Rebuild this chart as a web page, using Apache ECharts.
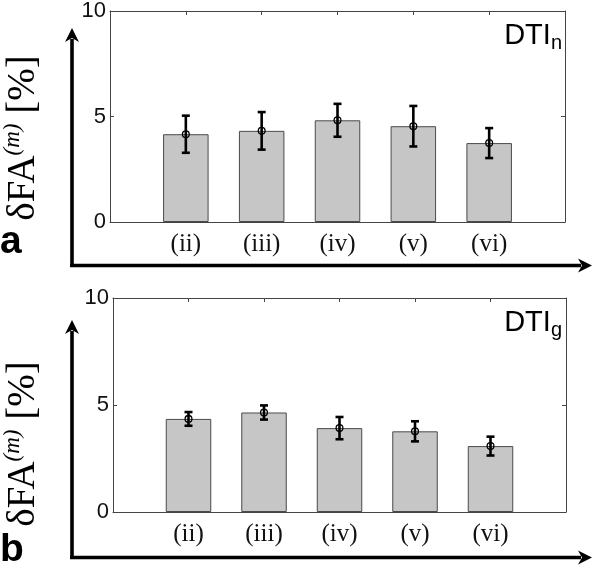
<!DOCTYPE html>
<html>
<head>
<meta charset="utf-8">
<script src="https://cdn.jsdelivr.net/npm/echarts@6/dist/echarts.min.js"></script>
<style>html,body{margin:0;padding:0;background:#fff;}#c{width:595px;height:568px;}</style>
</head>
<body>
<div id="c"></div>
<script>
const categories = ['(ii)', '(iii)', '(iv)', '(v)', '(vi)'];
const meanA = [4.16, 4.32, 4.82, 4.54, 3.74];
const errA  = [0.88, 0.89, 0.78, 0.96, 0.71];
const meanB = [4.35, 4.65, 3.92, 3.77, 3.08];
const errB  = [0.32, 0.33, 0.52, 0.47, 0.44];
const yTicks = [0, 5, 10];

const chart = echarts.init(document.getElementById('c'), null, {renderer: 'canvas'});
const axisCol = '#444';
const sansFont = '"Liberation Sans", Arial, sans-serif';
const serifFont = '"Liberation Serif", "Times New Roman", serif';

function xAxes(gi) {
  return [
    {gridIndex: gi, type: 'value', min: 0, max: categories.length + 1, interval: 1, position: 'bottom',
      axisLine: {show: true, onZero: false, lineStyle: {color: axisCol, width: 1}},
      axisTick: {show: true, inside: true, length: 4, lineStyle: {color: axisCol}},
      splitLine: {show: false},
      axisLabel: {margin: 10, color: '#111', fontFamily: serifFont, fontSize: 25,
        formatter: v => categories[v - 1] || ''}},
    {gridIndex: gi, type: 'value', min: 0, max: categories.length + 1, interval: 1, position: 'top',
      axisLine: {show: true, onZero: false, lineStyle: {color: axisCol, width: 1}},
      axisTick: {show: true, inside: true, length: 4, lineStyle: {color: axisCol}},
      splitLine: {show: false}, axisLabel: {show: false}}
  ];
}
function yAxes(gi) {
  return [
    {gridIndex: gi, type: 'value', min: yTicks[0], max: yTicks[yTicks.length - 1], interval: yTicks[1] - yTicks[0], position: 'left',
      axisLine: {show: true, onZero: false, lineStyle: {color: axisCol, width: 1}},
      axisTick: {show: true, inside: true, length: 4, lineStyle: {color: axisCol}},
      splitLine: {show: false},
      axisLabel: {margin: 4, color: '#111', fontFamily: sansFont, fontSize: 22}},
    {gridIndex: gi, type: 'value', min: yTicks[0], max: yTicks[yTicks.length - 1], interval: yTicks[1] - yTicks[0], position: 'right',
      axisLine: {show: true, onZero: false, lineStyle: {color: axisCol, width: 1}},
      axisTick: {show: true, inside: true, length: 4, lineStyle: {color: axisCol}},
      splitLine: {show: false}, axisLabel: {show: false}}
  ];
}

function errRender(params, api) {
  const x = api.value(0), m = api.value(1), e = api.value(2);
  const top = api.coord([x, m + e]);
  const bot = api.coord([x, m - e]);
  const c = api.coord([x, m]);
  const cap = 4;
  const ls = {stroke: '#000', lineWidth: 2.6};
  return {type: 'group', children: [
    {type: 'line', shape: {x1: top[0], y1: top[1], x2: bot[0], y2: bot[1]}, style: ls},
    {type: 'line', shape: {x1: top[0] - cap, y1: top[1], x2: top[0] + cap, y2: top[1]}, style: ls},
    {type: 'line', shape: {x1: bot[0] - cap, y1: bot[1], x2: bot[0] + cap, y2: bot[1]}, style: ls},
    {type: 'circle', shape: {cx: c[0], cy: c[1], r: 3.4}, style: {stroke: '#000', lineWidth: 1.3, fill: 'none'}}
  ]};
}

function barSeries(xi, yi, means) {
  return {type: 'bar', xAxisIndex: xi, yAxisIndex: yi, barWidth: 45.5,
    itemStyle: {color: '#c6c6c6', borderColor: '#4a4a4a', borderWidth: 1},
    data: means.map((v, i) => [i + 1, v]), z: 2};
}
function errSeries(xi, yi, means, errs) {
  return {type: 'custom', xAxisIndex: xi, yAxisIndex: yi, renderItem: errRender,
    data: means.map((v, i) => [i + 1, v, errs[i]]), z: 5};
}

function arrow(x1, y1, x2, y2) {
  const ang = Math.atan2(y2 - y1, x2 - x1);
  const L = 14, W = 7;
  const bx = x2 - L * Math.cos(ang), by = y2 - L * Math.sin(ang);
  const px = -Math.sin(ang) * W, py = Math.cos(ang) * W;
  return [
    {type: 'line', shape: {x1: x1, y1: y1, x2: bx + 3 * Math.cos(ang), y2: by + 3 * Math.sin(ang)}, style: {stroke: '#000', lineWidth: 3.6}},
    {type: 'polygon', shape: {points: [[x2, y2], [bx + px, by + py], [bx + 4 * Math.cos(ang), by + 4 * Math.sin(ang)], [bx - px, by - py]]}, style: {fill: '#000'}}
  ];
}

const yLabelRich = {
  a: {fontFamily: serifFont, fontSize: 39, color: '#111'},
  s: {fontFamily: serifFont, fontSize: 23, color: '#111', fontStyle: 'italic', padding: [0, 0, 22, 0]}
};
function yLabel(x, y) {
  return {type: 'text', x: x, y: y, rotation: Math.PI / 2,
    style: {text: '{a|δFA}{s|(m)}{a| [%]}', rich: yLabelRich, align: 'center', verticalAlign: 'middle'}};
}
function dtiLabel(x, y, sub) {
  return {type: 'text', x: x, y: y,
    style: {text: '{a|DTI}{b|' + sub + '}', align: 'right', verticalAlign: 'top',
      rich: {a: {fontFamily: sansFont, fontSize: 29, color: '#111'},
             b: {fontFamily: sansFont, fontSize: 20, color: '#111', padding: [14, 0, 0, 0]}}}};
}

const graphics = [].concat(
  arrow(72, 267, 72, 28),
  arrow(70, 265.5, 592, 265.5),
  arrow(72, 559, 72, 320),
  arrow(70, 557.5, 592, 557.5),
  [
    yLabel(24, 138),
    yLabel(24, 444),
    {type: 'text', x: 0, y: 262, style: {text: 'a', fontFamily: sansFont, fontWeight: 'bold', fontSize: 39, fill: '#000', align: 'left', verticalAlign: 'bottom'}},
    {type: 'text', x: 0, y: 570, style: {text: 'b', fontFamily: sansFont, fontWeight: 'bold', fontSize: 39, fill: '#000', align: 'left', verticalAlign: 'bottom'}},
    dtiLabel(562, 19, 'n'),
    dtiLabel(562, 306, 'g')
  ]
);

chart.setOption({
  animation: false,
  backgroundColor: '#fff',
  grid: [
    {left: 110, top: 9, width: 455, height: 213},
    {left: 113, top: 298, width: 453, height: 214}
  ],
  xAxis: xAxes(0).concat(xAxes(1)),
  yAxis: yAxes(0).concat(yAxes(1)),
  series: [
    barSeries(0, 0, meanA), errSeries(0, 0, meanA, errA),
    barSeries(2, 2, meanB), errSeries(2, 2, meanB, errB)
  ],
  graphic: graphics
});
</script>
</body>
</html>
